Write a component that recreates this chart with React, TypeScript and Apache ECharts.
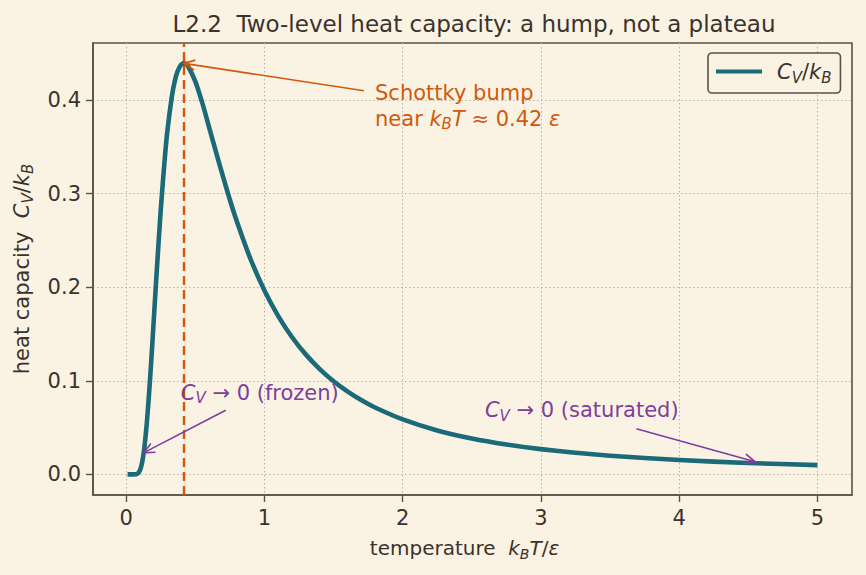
import React, { useEffect, useRef } from "react";
import * as echarts from "echarts";

// temperature k_B T / ε
const temperature = [
  0.01, 0.03, 0.05, 0.07, 0.08, 0.09, 0.1, 0.11, 0.12, 0.13, 0.14, 0.15, 0.16, 0.17, 0.18, 0.19, 0.2,
  0.22, 0.25, 0.28, 0.3, 0.33, 0.35, 0.37, 0.39, 0.4, 0.417, 0.43, 0.45, 0.5, 0.55, 0.6, 0.65, 0.7,
  0.75, 0.8, 0.9, 1.0, 1.1, 1.2, 1.3, 1.4, 1.5, 1.6, 1.7, 1.8, 2.0, 2.25, 2.5, 2.75, 3.0, 3.25, 3.5,
  4.0, 4.5, 5.0,
];
// heat capacity C_V / k_B
const heatCapacity = [
  0.0, 0.0, 0.0, 0.00013, 0.00058, 0.00185, 0.00454, 0.0093, 0.0167, 0.0269, 0.0403, 0.0564, 0.0751,
  0.096, 0.1184, 0.142, 0.1663, 0.2147, 0.2826, 0.3393, 0.3695, 0.4035, 0.4193, 0.4299, 0.4364, 0.4382,
  0.4392, 0.4386, 0.4356, 0.42, 0.3972, 0.3709, 0.3443, 0.3184, 0.2935, 0.2705, 0.2299, 0.1966, 0.1692,
  0.1466, 0.128, 0.1126, 0.0996, 0.0887, 0.0794, 0.0715, 0.0588, 0.047, 0.0384, 0.032, 0.027, 0.0231,
  0.02, 0.0154, 0.0122, 0.0099,
];
const peakTemperature = 0.417;
const xTicks = [0, 1, 2, 3, 4, 5];
const yTicks = [0, 0.1, 0.2, 0.3, 0.4];

const FONT = "DejaVu Sans";
const BG = "#faf3e4";
const INK = "#3a322c";
const SPINE = "#5c5047";
const TEAL = "#1a6a78";
const ORANGE = "#d2580c";
const PURPLE = "#7c3f9c";
const GRID = "#bdb2a4";

const mathRich = (color: string, size: number, key: "color" | "fill" = "color") => ({
  n: { [key]: color, fontSize: size, fontFamily: FONT, lineHeight: 26 },
  i: { [key]: color, fontSize: size, fontFamily: FONT, fontStyle: "italic", lineHeight: 26 },
  s: {
    [key]: color,
    fontSize: Math.round(size * 0.7),
    fontFamily: FONT,
    fontStyle: "italic",
    lineHeight: 16,
    verticalAlign: "bottom",
  },
  g: { width: 16 },
});

export default function App() {
  const ref = useRef<HTMLDivElement>(null);
  useEffect(() => {
    document.body.style.margin = "0";
    const chart = echarts.init(ref.current!, null, { renderer: "svg" });
    const curve = temperature.map((t, k) => [t, heatCapacity[k]]);

    // arrows: [x_start, y_start, x_tip, y_tip]
    const arrows = [
      [1.72, 0.41, peakTemperature, 0.4392],
      [0.72, 0.0686, 0.125, 0.023],
      [3.69, 0.0487, 4.55, 0.0135],
    ];
    const arrowColors = [ORANGE, PURPLE, PURPLE];
    const notes = [
      [1.8, 0.394],
      [0.395, 0.0875],
      [2.595, 0.0683],
    ];
    const noteTexts = [
      "{n|Schottky bump}\n{n|near }{i|k}{s|B}{i|T}{n| ≈ 0.42 }{i|ε}",
      "{i|C}{s|V}{n| → 0 (frozen)}",
      "{i|C}{s|V}{n| → 0 (saturated)}",
    ];
    const noteColors = [ORANGE, PURPLE, PURPLE];

    chart.setOption({
      animation: false,
      backgroundColor: BG,
      textStyle: { fontFamily: FONT },
      title: {
        text: "L2.2  Two-level heat capacity: a hump, not a plateau",
        left: 469,
        textAlign: "center",
        top: 7,
        textStyle: { color: INK, fontSize: 23, fontWeight: "normal", fontFamily: FONT },
      },
      legend: {
        left: 708,
        top: 53,
        padding: [8, 9, 8, 8],
        backgroundColor: BG,
        borderColor: SPINE,
        borderWidth: 1.6,
        borderRadius: 4,
        icon: "rect",
        itemWidth: 46,
        itemHeight: 4,
        formatter: () => "{h|}{i|C}{s|V}{n|/}{i|k}{s|B}",
        textStyle: {
          rich: { ...mathRich(INK, 21), h: { width: 10, lineHeight: 27 } },
        },
        data: [{ name: "Cv", itemStyle: { color: TEAL } }],
      },
      grid: {
        left: 93,
        right: 14,
        top: 43,
        bottom: 80,
        show: true,
        backgroundColor: BG,
        borderColor: SPINE,
        borderWidth: 1.6,
      },
      xAxis: {
        type: "value",
        min: -0.24,
        max: 5.25,
        name: "{n|temperature  }{i|k}{s|B}{i|T}{n|/}{i|ε}{g|}",
        nameLocation: "middle",
        nameGap: 40,
        nameTextStyle: { rich: mathRich(INK, 20) },
        axisLine: { show: true, onZero: false, lineStyle: { color: SPINE, width: 1.6 } },
        axisTick: { show: true, length: 7, customValues: xTicks, lineStyle: { color: SPINE, width: 1.4 } },
        axisLabel: { customValues: xTicks, margin: 12, color: INK, fontSize: 21, fontFamily: FONT, formatter: (v: number) => String(v) },
        splitLine: { show: true, lineStyle: { color: GRID, width: 1, type: [1.5, 2.5] } },
      },
      yAxis: {
        type: "value",
        min: -0.022,
        max: 0.461,
        name: "{n|heat capacity  }{i|C}{s|V}{n|/}{i|k}{s|B}",
        nameLocation: "middle",
        nameGap: 58,
        nameTextStyle: { rich: mathRich(INK, 21) },
        axisLine: { show: true, onZero: false, lineStyle: { color: SPINE, width: 1.6 } },
        axisTick: { show: true, length: 7, customValues: yTicks, lineStyle: { color: SPINE, width: 1.4 } },
        axisLabel: { customValues: yTicks, margin: 12, color: INK, fontSize: 21, fontFamily: FONT, formatter: (v: number) => v.toFixed(1) },
        splitLine: { show: true, lineStyle: { color: GRID, width: 1, type: [1.5, 2.5] } },
      },
      series: [
        {
          name: "Cv",
          type: "line",
          data: curve,
          showSymbol: false,
          smooth: 0.2,
          lineStyle: { color: TEAL, width: 4.6, join: "round" },
          itemStyle: { color: TEAL },
          z: 3,
          markLine: {
            silent: true,
            symbol: ["none", "none"],
            label: { show: false },
            lineStyle: { color: ORANGE, width: 2.4, type: [9, 5] },
            data: [{ xAxis: peakTemperature }],
            z: 4,
          },
        },
        {
          type: "custom",
          silent: true,
          clip: false,
          z: 5,
          data: arrows,
          renderItem: (params: any, api: any) => {
            const s = api.coord([api.value(0), api.value(1)]);
            const e = api.coord([api.value(2), api.value(3)]);
            const c = arrowColors[params.dataIndex];
            const a = Math.atan2(e[1] - s[1], e[0] - s[0]);
            const L = 11, W = 5;
            const bx = e[0] - L * Math.cos(a), by = e[1] - L * Math.sin(a);
            const p1 = [bx + W * Math.sin(a), by - W * Math.cos(a)];
            const p2 = [bx - W * Math.sin(a), by + W * Math.cos(a)];
            return {
              type: "group",
              children: [
                { type: "line", shape: { x1: s[0], y1: s[1], x2: e[0], y2: e[1] }, style: { stroke: c, lineWidth: 1.6 } },
                { type: "polyline", shape: { points: [p1, e, p2] }, style: { stroke: c, fill: "none", lineWidth: 1.6 } },
              ],
            };
          },
        },
        {
          type: "custom",
          silent: true,
          clip: false,
          z: 6,
          data: notes,
          renderItem: (params: any, api: any) => {
            const p = api.coord([api.value(0), api.value(1)]);
            const c = noteColors[params.dataIndex];
            return {
              type: "text",
              x: p[0],
              y: p[1],
              style: {
                text: noteTexts[params.dataIndex],
                fill: c,
                align: "left",
                verticalAlign: "middle",
                rich: mathRich(c, 21, "fill"),
              },
            };
          },
        },
      ],
    });
    return () => chart.dispose();
  }, []);
  return <div ref={ref} style={{ width: 866, height: 575, position: "absolute", left: 0, top: 0 }} />;
}
